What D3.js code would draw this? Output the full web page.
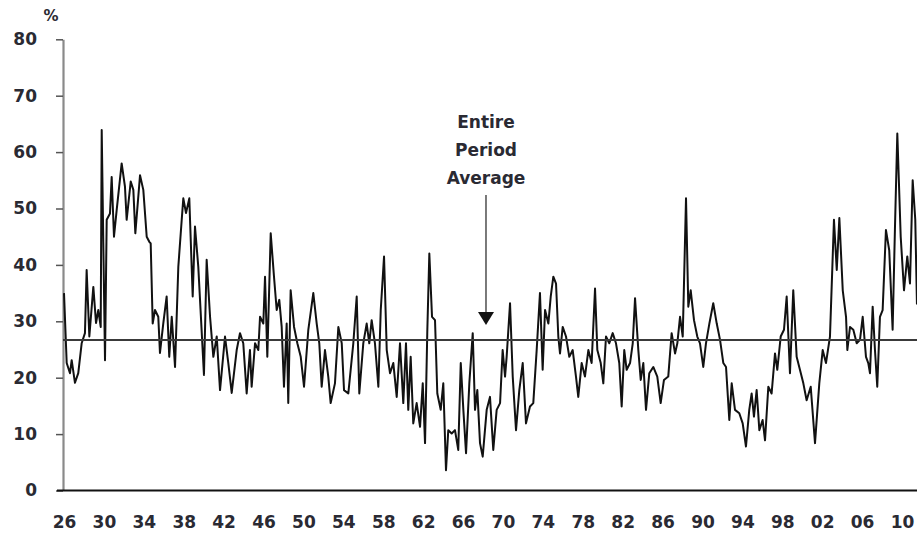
<!DOCTYPE html>
<html>
<head>
<meta charset="utf-8">
<script src="https://cdn.jsdelivr.net/npm/d3@7"></script>
<style>
  body { margin: 0; background: #fff; }
  svg { display: block; }
  text { font-family: "DejaVu Sans", Verdana, sans-serif; font-weight: bold; fill: #2a2a33; }
</style>
</head>
<body>
<svg id="chart" width="917" height="535"></svg>
<script>
// ---- data ----
const dates = [
  1926.00,1926.27,1926.60,1926.77,1927.10,1927.43,1927.77,1928.10,1928.27,1928.54,
  1928.94,1929.21,1929.44,1929.68,1929.78,1929.94,1930.11,1930.28,1930.61,1930.78,
  1931.01,1931.28,1931.78,1932.11,1932.28,1932.69,1932.95,1933.15,1933.62,1933.95,
  1934.29,1934.55,1934.69,1934.89,1935.12,1935.45,1935.62,1935.95,1936.29,1936.55,
  1936.80,1937.13,1937.46,1937.80,1937.96,1938.23,1938.56,1938.90,1939.13,1939.46,
  1940.03,1940.30,1940.64,1940.97,1941.31,1941.64,1942.14,1942.47,1942.81,1943.31,
  1943.64,1943.97,1944.31,1944.64,1944.81,1945.15,1945.48,1945.65,1945.98,1946.15,
  1946.38,1946.72,1947.05,1947.32,1947.58,1947.82,1948.05,1948.32,1948.48,1948.72,
  1949.06,1949.39,1949.73,1950.06,1950.49,1950.99,1951.33,1951.59,1951.83,1952.16,
  1952.49,1952.73,1953.16,1953.50,1953.84,1954.07,1954.50,1955.00,1955.34,1955.60,
  1956.00,1956.34,1956.60,1956.84,1957.17,1957.51,1957.75,1958.08,1958.35,1958.68,
  1959.01,1959.35,1959.68,1960.01,1960.28,1960.51,1960.75,1961.01,1961.35,1961.69,
  1961.96,1962.19,1962.42,1962.62,1962.89,1963.19,1963.42,1963.76,1964.02,1964.29,
  1964.52,1964.86,1965.19,1965.52,1965.77,1966.03,1966.30,1966.63,1966.97,1967.20,
  1967.43,1967.70,1967.97,1968.37,1968.70,1969.03,1969.37,1969.71,1969.97,1970.21,
  1970.37,1970.71,1970.98,1971.31,1971.64,1971.98,1972.31,1972.71,1973.04,1973.38,
  1973.71,1973.98,1974.22,1974.55,1974.79,1975.05,1975.32,1975.55,1975.72,1975.99,
  1976.32,1976.65,1976.99,1977.32,1977.55,1977.89,1978.22,1978.56,1978.89,1979.23,
  1979.46,1979.80,1980.06,1980.33,1980.66,1981.00,1981.33,1981.66,1981.90,1982.16,
  1982.40,1982.74,1983.01,1983.24,1983.57,1983.81,1984.07,1984.34,1984.67,1985.07,
  1985.47,1985.81,1986.14,1986.57,1986.91,1987.25,1987.48,1987.75,1988.02,1988.35,
  1988.58,1988.82,1989.15,1989.48,1989.75,1990.08,1990.35,1990.69,1991.08,1991.43,
  1991.76,1992.09,1992.36,1992.69,1992.93,1993.26,1993.69,1994.03,1994.36,1994.69,
  1994.93,1995.16,1995.43,1995.70,1996.03,1996.27,1996.60,1996.93,1997.27,1997.50,
  1997.84,1998.17,1998.44,1998.77,1999.10,1999.44,1999.77,2000.11,2000.44,2000.85,
  2001.28,2001.71,2002.05,2002.38,2002.78,2003.18,2003.46,2003.72,2004.06,2004.39,
  2004.52,2004.79,2005.12,2005.46,2005.79,2006.06,2006.39,2006.62,2006.79,2007.06,
  2007.29,2007.52,2007.79,2008.06,2008.39,2008.72,2009.06,2009.29,2009.53,2009.87,
  2010.20,2010.53,2010.80,2011.07,2011.33,2011.50
];
const values = [
  35.0,22.6,20.8,23.1,19.1,20.8,26.1,27.9,39.1,27.3,
  36.1,29.7,32.0,29.0,63.9,43.9,23.1,48.0,49.1,55.6,
  45.0,49.7,58.0,53.9,48.0,54.8,53.3,45.6,55.9,53.3,
  45.0,44.1,43.8,29.6,32.0,30.8,24.4,29.6,34.4,23.7,
  30.8,21.9,39.7,48.0,51.8,49.2,51.8,34.4,46.8,39.7,
  20.5,40.9,30.8,23.7,27.3,17.8,27.3,22.6,17.3,24.9,
  27.9,26.1,17.2,24.9,18.4,26.1,24.9,30.8,29.6,37.9,
  23.7,45.6,37.9,32.0,33.8,29.0,18.4,29.6,15.5,35.5,
  29.0,26.1,23.7,18.4,28.5,35.0,29.6,26.1,18.4,24.9,
  20.2,15.5,19.0,29.0,26.1,17.8,17.2,26.1,34.4,17.2,
  26.1,29.6,26.1,30.2,26.1,18.4,32.0,41.5,24.9,20.8,
  22.6,16.6,26.1,15.5,26.1,14.3,23.7,11.9,15.5,11.3,
  19.0,8.4,28.5,42.0,30.8,30.2,17.2,14.3,19.0,3.6,
  10.7,10.1,10.7,7.2,22.6,14.3,6.6,19.0,27.9,14.3,
  17.8,8.4,6.0,14.3,16.6,7.2,14.3,15.5,24.9,20.2,
  23.7,33.2,20.2,10.7,17.8,22.6,11.9,14.9,15.5,24.9,
  35.0,21.4,32.0,29.6,34.4,37.9,36.7,27.3,24.3,29.0,
  27.3,23.7,24.9,20.2,16.6,22.6,20.2,24.9,22.6,35.8,
  24.9,22.6,19.0,27.3,26.1,27.9,26.1,22.6,14.9,24.9,
  21.4,22.6,26.1,34.1,24.9,19.6,22.6,14.3,20.8,21.9,
  20.2,15.5,19.6,20.2,27.9,24.3,26.1,30.8,27.3,51.8,
  32.6,35.5,30.2,27.3,26.1,21.9,26.1,29.6,33.2,29.6,
  26.7,22.6,21.9,12.5,19.0,14.3,13.7,11.9,7.8,14.3,
  17.2,13.1,17.8,10.7,12.5,8.9,18.4,17.2,24.3,21.4,
  27.3,28.5,34.4,20.8,35.5,23.7,21.4,19.0,16.0,18.4,
  8.4,19.0,24.9,22.6,27.3,48.0,39.1,48.3,35.5,30.8,
  24.9,29.0,28.5,26.1,26.7,30.8,23.7,22.6,20.8,32.6,
  24.9,18.4,30.8,32.0,46.2,42.6,28.5,46.2,63.3,45.0,
  35.5,41.5,36.7,55.0,48.0,33.0
];
const xTickYears = [1926,1930,1934,1938,1942,1946,1950,1954,1958,1962,1966,1970,1974,1978,1982,1986,1990,1994,1998,2002,2006,2010];
const yTicks = [0,10,20,30,40,50,60,70,80];
const averageValue = 26.7;
const annotationLines = ["Entire", "Period", "Average"];
const annotationYear = 1968.3;
const unitLabel = "%";

// ---- drawing ----
const W = 917, H = 535;
const svg = d3.select("#chart");
const x = d3.scaleLinear().domain([1926, 2010]).range([64, 902]);
const y = d3.scaleLinear().domain([0, 80]).range([490.5, 39.3]);

// y axis
const yAxis = d3.axisLeft(y).tickValues(yTicks).tickSize(7).tickSizeOuter(0).tickPadding(19);
const gy = svg.append("g").attr("transform", "translate(63,0)").call(yAxis);
gy.select(".domain").attr("stroke", "#8a8a8a").attr("stroke-width", 2.2);
gy.selectAll(".tick line").attr("stroke", "#555").attr("stroke-width", 1.5);
gy.selectAll(".tick text").attr("font-size", 17).style("font-family", "DejaVu Sans, sans-serif").attr("font-weight", "bold").attr("fill", "#2a2a33");

// unit label
svg.append("text").attr("x", 51).attr("y", 21).attr("text-anchor", "middle")
  .attr("font-size", 15).text(unitLabel);

// data line
const line = d3.line().x((d, i) => x(dates[i])).y(d => y(d));
svg.append("path").datum(values)
  .attr("d", line)
  .attr("fill", "none")
  .attr("stroke", "#111")
  .attr("stroke-width", 2)
  .attr("stroke-linejoin", "round");

// average line
svg.append("line")
  .attr("x1", 63).attr("x2", W)
  .attr("y1", y(averageValue)).attr("y2", y(averageValue))
  .attr("stroke", "#3a3a3a").attr("stroke-width", 2);

// x axis
const xAxis = d3.axisBottom(x).tickValues(xTickYears).tickSize(0).tickPadding(25)
  .tickFormat(d => String(d % 100).padStart(2, "0"));
const gx = svg.append("g").attr("transform", `translate(0,${y(0)})`).call(xAxis);
gx.select(".domain").remove();
gx.selectAll(".tick text").attr("font-size", 17).style("font-family", "DejaVu Sans, sans-serif").attr("font-weight", "bold").attr("fill", "#2a2a33");
svg.append("line")
  .attr("x1", 57).attr("x2", W)
  .attr("y1", y(0)).attr("y2", y(0))
  .attr("stroke", "#111").attr("stroke-width", 2);

// annotation
const ax = x(annotationYear);
const ann = svg.append("g");
annotationLines.forEach((t, i) => {
  ann.append("text").attr("x", ax).attr("y", 128 + i * 28)
    .attr("text-anchor", "middle").attr("font-size", 17).text(t);
});
ann.append("line").attr("x1", ax).attr("x2", ax).attr("y1", 195).attr("y2", 314)
  .attr("stroke", "#333").attr("stroke-width", 1.3);
ann.append("path")
  .attr("d", d3.line()([[ax - 8, 312], [ax + 8, 312], [ax, y(averageValue) - 15]]) + "Z")
  .attr("fill", "#111");
</script>
</body>
</html>
